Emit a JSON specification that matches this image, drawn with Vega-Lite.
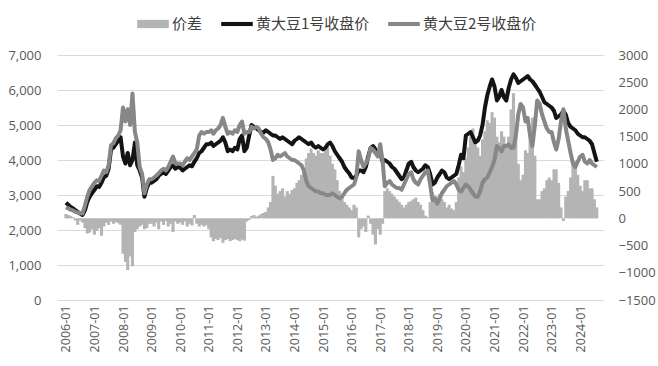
{
 "$schema": "https://vega.github.io/schema/vega-lite/v6.json",
 "width": 547, "height": 245,
 "autosize": "none",
 "padding": {"left": 57, "top": 55, "right": 54, "bottom": 66},
 "background": "white",
 "config": {"view": {"stroke": null}, "font": "Open Sans"},
 "data": {"values": [
{"date":"2006-01-01","a1":2780,"a2":2650,"d":80},{"date":"2006-02-01","a1":2720,"a2":2620,"d":60},{"date":"2006-03-01","a1":2660,"a2":2580,"d":40},{"date":"2006-04-01","a1":2620,"a2":2560,"d":20},{"date":"2006-05-01","a1":2570,"a2":2520,"d":-40},{"date":"2006-06-01","a1":2520,"a2":2500,"d":-120},{"date":"2006-07-01","a1":2470,"a2":2480,"d":-40},{"date":"2006-08-01","a1":2430,"a2":2470,"d":-80},{"date":"2006-09-01","a1":2560,"a2":2700,"d":-180},{"date":"2006-10-01","a1":2800,"a2":2950,"d":-280},{"date":"2006-11-01","a1":2950,"a2":3150,"d":-260},{"date":"2006-12-01","a1":3050,"a2":3250,"d":-200},
{"date":"2007-01-01","a1":3150,"a2":3350,"d":-300},{"date":"2007-02-01","a1":3250,"a2":3420,"d":-230},{"date":"2007-03-01","a1":3230,"a2":3400,"d":-180},{"date":"2007-04-01","a1":3350,"a2":3550,"d":-320},{"date":"2007-05-01","a1":3500,"a2":3700,"d":-150},{"date":"2007-06-01","a1":3550,"a2":3650,"d":-80},{"date":"2007-07-01","a1":3750,"a2":3850,"d":-120},{"date":"2007-08-01","a1":4300,"a2":4420,"d":-60},{"date":"2007-09-01","a1":4350,"a2":4480,"d":-100},{"date":"2007-10-01","a1":4450,"a2":4620,"d":-70},{"date":"2007-11-01","a1":4550,"a2":4700,"d":-90},{"date":"2007-12-01","a1":4650,"a2":4850,"d":-120},
{"date":"2008-01-01","a1":4100,"a2":5500,"d":-650},{"date":"2008-02-01","a1":3900,"a2":5100,"d":-800},{"date":"2008-03-01","a1":4200,"a2":5450,"d":-950},{"date":"2008-04-01","a1":3850,"a2":5000,"d":-700},{"date":"2008-05-01","a1":4000,"a2":5900,"d":-880},{"date":"2008-06-01","a1":4500,"a2":4800,"d":-250},{"date":"2008-07-01","a1":3850,"a2":4500,"d":-200},{"date":"2008-08-01","a1":3700,"a2":3800,"d":-150},{"date":"2008-09-01","a1":3500,"a2":3600,"d":-120},{"date":"2008-10-01","a1":2950,"a2":3050,"d":-200},{"date":"2008-11-01","a1":3200,"a2":3300,"d":-180},{"date":"2008-12-01","a1":3350,"a2":3450,"d":-100},
{"date":"2009-01-01","a1":3350,"a2":3450,"d":-100},{"date":"2009-02-01","a1":3400,"a2":3500,"d":-150},{"date":"2009-03-01","a1":3450,"a2":3550,"d":-80},{"date":"2009-04-01","a1":3550,"a2":3620,"d":-200},{"date":"2009-05-01","a1":3600,"a2":3700,"d":-60},{"date":"2009-06-01","a1":3650,"a2":3750,"d":-120},{"date":"2009-07-01","a1":3600,"a2":3700,"d":-50},{"date":"2009-08-01","a1":3700,"a2":3800,"d":-150},{"date":"2009-09-01","a1":3800,"a2":3950,"d":-100},{"date":"2009-10-01","a1":3850,"a2":4100,"d":-250},{"date":"2009-11-01","a1":3750,"a2":3900,"d":-60},{"date":"2009-12-01","a1":3800,"a2":3900,"d":-100},
{"date":"2010-01-01","a1":3780,"a2":3900,"d":-80},{"date":"2010-02-01","a1":3700,"a2":3850,"d":-120},{"date":"2010-03-01","a1":3750,"a2":3950,"d":-60},{"date":"2010-04-01","a1":3800,"a2":4050,"d":-150},{"date":"2010-05-01","a1":3850,"a2":4000,"d":-100},{"date":"2010-06-01","a1":3820,"a2":4100,"d":-130},{"date":"2010-07-01","a1":3950,"a2":4200,"d":60},{"date":"2010-08-01","a1":4050,"a2":4300,"d":-100},{"date":"2010-09-01","a1":4200,"a2":4700,"d":-150},{"date":"2010-10-01","a1":4250,"a2":4800,"d":-120},{"date":"2010-11-01","a1":4350,"a2":4750,"d":-150},{"date":"2010-12-01","a1":4450,"a2":4800,"d":-130},
{"date":"2011-01-01","a1":4450,"a2":4800,"d":-200},{"date":"2011-02-01","a1":4500,"a2":4850,"d":-350},{"date":"2011-03-01","a1":4400,"a2":4750,"d":-420},{"date":"2011-04-01","a1":4450,"a2":4850,"d":-380},{"date":"2011-05-01","a1":4500,"a2":4900,"d":-400},{"date":"2011-06-01","a1":4550,"a2":5000,"d":-360},{"date":"2011-07-01","a1":4650,"a2":5200,"d":-450},{"date":"2011-08-01","a1":4500,"a2":4950,"d":-400},{"date":"2011-09-01","a1":4250,"a2":4750,"d":-380},{"date":"2011-10-01","a1":4300,"a2":4800,"d":-420},{"date":"2011-11-01","a1":4250,"a2":4750,"d":-400},{"date":"2011-12-01","a1":4350,"a2":4850,"d":-380},
{"date":"2012-01-01","a1":4300,"a2":4800,"d":-400},{"date":"2012-02-01","a1":4600,"a2":5000,"d":-420},{"date":"2012-03-01","a1":4700,"a2":5100,"d":-390},{"date":"2012-04-01","a1":4250,"a2":4750,"d":-410},{"date":"2012-05-01","a1":4350,"a2":4800,"d":-60},{"date":"2012-06-01","a1":4700,"a2":4800,"d":-30},{"date":"2012-07-01","a1":5000,"a2":4950,"d":40},{"date":"2012-08-01","a1":4950,"a2":4900,"d":60},{"date":"2012-09-01","a1":4900,"a2":4950,"d":30},{"date":"2012-10-01","a1":4850,"a2":4900,"d":50},{"date":"2012-11-01","a1":4800,"a2":4750,"d":80},{"date":"2012-12-01","a1":4780,"a2":4650,"d":100},
{"date":"2013-01-01","a1":4850,"a2":4600,"d":120},{"date":"2013-02-01","a1":4800,"a2":4500,"d":200},{"date":"2013-03-01","a1":4750,"a2":4300,"d":300},{"date":"2013-04-01","a1":4700,"a2":4000,"d":780},{"date":"2013-05-01","a1":4700,"a2":4050,"d":600},{"date":"2013-06-01","a1":4650,"a2":4150,"d":450},{"date":"2013-07-01","a1":4600,"a2":4100,"d":500},{"date":"2013-08-01","a1":4650,"a2":4150,"d":550},{"date":"2013-09-01","a1":4600,"a2":4200,"d":400},{"date":"2013-10-01","a1":4550,"a2":4100,"d":500},{"date":"2013-11-01","a1":4500,"a2":4050,"d":450},{"date":"2013-12-01","a1":4450,"a2":4000,"d":520},
{"date":"2014-01-01","a1":4550,"a2":4000,"d":550},{"date":"2014-02-01","a1":4600,"a2":3950,"d":650},{"date":"2014-03-01","a1":4650,"a2":3900,"d":700},{"date":"2014-04-01","a1":4600,"a2":3850,"d":800},{"date":"2014-05-01","a1":4550,"a2":3700,"d":900},{"date":"2014-06-01","a1":4500,"a2":3400,"d":1100},{"date":"2014-07-01","a1":4450,"a2":3250,"d":1200},{"date":"2014-08-01","a1":4500,"a2":3200,"d":1280},{"date":"2014-09-01","a1":4400,"a2":3150,"d":1200},{"date":"2014-10-01","a1":4350,"a2":3100,"d":1150},{"date":"2014-11-01","a1":4400,"a2":3100,"d":1250},{"date":"2014-12-01","a1":4350,"a2":3050,"d":1200},
{"date":"2015-01-01","a1":4300,"a2":3050,"d":1200},{"date":"2015-02-01","a1":4350,"a2":3000,"d":1300},{"date":"2015-03-01","a1":4450,"a2":3000,"d":1350},{"date":"2015-04-01","a1":4500,"a2":3000,"d":1150},{"date":"2015-05-01","a1":4400,"a2":3050,"d":1000},{"date":"2015-06-01","a1":4250,"a2":3000,"d":900},{"date":"2015-07-01","a1":4150,"a2":2950,"d":700},{"date":"2015-08-01","a1":4050,"a2":2900,"d":500},{"date":"2015-09-01","a1":3950,"a2":2950,"d":400},{"date":"2015-10-01","a1":3800,"a2":3050,"d":300},{"date":"2015-11-01","a1":3700,"a2":3150,"d":250},{"date":"2015-12-01","a1":3620,"a2":3200,"d":200},
{"date":"2016-01-01","a1":3500,"a2":3250,"d":150},{"date":"2016-02-01","a1":3480,"a2":3300,"d":250},{"date":"2016-03-01","a1":3550,"a2":3500,"d":200},{"date":"2016-04-01","a1":3700,"a2":4250,"d":-350},{"date":"2016-05-01","a1":3700,"a2":4000,"d":-200},{"date":"2016-06-01","a1":3650,"a2":3800,"d":-150},{"date":"2016-07-01","a1":3800,"a2":3900,"d":-250},{"date":"2016-08-01","a1":4100,"a2":4050,"d":50},{"date":"2016-09-01","a1":4350,"a2":4350,"d":-100},{"date":"2016-10-01","a1":4400,"a2":4300,"d":-300},{"date":"2016-11-01","a1":4300,"a2":4200,"d":-480},{"date":"2016-12-01","a1":4150,"a2":4100,"d":-200},
{"date":"2017-01-01","a1":4200,"a2":4450,"d":-300},{"date":"2017-02-01","a1":3950,"a2":3950,"d":-100},{"date":"2017-03-01","a1":4000,"a2":3250,"d":500},{"date":"2017-04-01","a1":3950,"a2":3350,"d":550},{"date":"2017-05-01","a1":3900,"a2":3400,"d":500},{"date":"2017-06-01","a1":3800,"a2":3300,"d":450},{"date":"2017-07-01","a1":3750,"a2":3250,"d":400},{"date":"2017-08-01","a1":3650,"a2":3200,"d":350},{"date":"2017-09-01","a1":3550,"a2":3200,"d":300},{"date":"2017-10-01","a1":3450,"a2":3150,"d":250},{"date":"2017-11-01","a1":3500,"a2":3300,"d":200},{"date":"2017-12-01","a1":3700,"a2":3450,"d":250},
{"date":"2018-01-01","a1":3900,"a2":3600,"d":300},{"date":"2018-02-01","a1":3950,"a2":3650,"d":320},{"date":"2018-03-01","a1":3800,"a2":3450,"d":350},{"date":"2018-04-01","a1":3700,"a2":3350,"d":380},{"date":"2018-05-01","a1":3650,"a2":3300,"d":300},{"date":"2018-06-01","a1":3700,"a2":3450,"d":250},{"date":"2018-07-01","a1":3750,"a2":3550,"d":150},{"date":"2018-08-01","a1":3850,"a2":3650,"d":50},{"date":"2018-09-01","a1":3800,"a2":3700,"d":20},{"date":"2018-10-01","a1":3600,"a2":3300,"d":300},{"date":"2018-11-01","a1":3300,"a2":2850,"d":480},{"date":"2018-12-01","a1":3350,"a2":2900,"d":420},
{"date":"2019-01-01","a1":3500,"a2":2750,"d":400},{"date":"2019-02-01","a1":3600,"a2":2900,"d":450},{"date":"2019-03-01","a1":3700,"a2":3050,"d":350},{"date":"2019-04-01","a1":3650,"a2":3150,"d":300},{"date":"2019-05-01","a1":3500,"a2":3250,"d":200},{"date":"2019-06-01","a1":3450,"a2":3300,"d":250},{"date":"2019-07-01","a1":3500,"a2":3350,"d":180},{"date":"2019-08-01","a1":3550,"a2":3400,"d":150},{"date":"2019-09-01","a1":3600,"a2":3300,"d":300},{"date":"2019-10-01","a1":3850,"a2":3150,"d":750},{"date":"2019-11-01","a1":4150,"a2":3100,"d":950},{"date":"2019-12-01","a1":4050,"a2":3200,"d":850},
{"date":"2020-01-01","a1":4700,"a2":3300,"d":1100},{"date":"2020-02-01","a1":4750,"a2":3250,"d":1300},{"date":"2020-03-01","a1":4800,"a2":3150,"d":1500},{"date":"2020-04-01","a1":4650,"a2":3050,"d":1650},{"date":"2020-05-01","a1":4500,"a2":2950,"d":1350},{"date":"2020-06-01","a1":4550,"a2":2950,"d":1300},{"date":"2020-07-01","a1":4700,"a2":3100,"d":1150},{"date":"2020-08-01","a1":5000,"a2":3350,"d":1450},{"date":"2020-09-01","a1":5500,"a2":3450,"d":1600},{"date":"2020-10-01","a1":5850,"a2":3500,"d":1800},{"date":"2020-11-01","a1":6100,"a2":3650,"d":1750},{"date":"2020-12-01","a1":6300,"a2":3800,"d":1950},
{"date":"2021-01-01","a1":6100,"a2":4000,"d":1850},{"date":"2021-02-01","a1":5700,"a2":4400,"d":1500},{"date":"2021-03-01","a1":5800,"a2":4350,"d":1400},{"date":"2021-04-01","a1":6000,"a2":4250,"d":1600},{"date":"2021-05-01","a1":5800,"a2":4400,"d":1500},{"date":"2021-06-01","a1":5700,"a2":4400,"d":1300},{"date":"2021-07-01","a1":6050,"a2":4450,"d":1500},{"date":"2021-08-01","a1":6300,"a2":4350,"d":2000},{"date":"2021-09-01","a1":6450,"a2":4350,"d":2300},{"date":"2021-10-01","a1":6350,"a2":4700,"d":1700},{"date":"2021-11-01","a1":6200,"a2":5300,"d":1000},{"date":"2021-12-01","a1":6250,"a2":5600,"d":700},
{"date":"2022-01-01","a1":6300,"a2":5500,"d":800},{"date":"2022-02-01","a1":6350,"a2":5100,"d":1250},{"date":"2022-03-01","a1":6400,"a2":5200,"d":1200},{"date":"2022-04-01","a1":6300,"a2":4700,"d":1600},{"date":"2022-05-01","a1":6250,"a2":4400,"d":1850},{"date":"2022-06-01","a1":6150,"a2":5000,"d":1150},{"date":"2022-07-01","a1":6050,"a2":5700,"d":350},{"date":"2022-08-01","a1":5950,"a2":5600,"d":350},{"date":"2022-09-01","a1":5800,"a2":5300,"d":500},{"date":"2022-10-01","a1":5650,"a2":5100,"d":550},{"date":"2022-11-01","a1":5600,"a2":4900,"d":700},{"date":"2022-12-01","a1":5550,"a2":4800,"d":750},
{"date":"2023-01-01","a1":5500,"a2":4800,"d":700},{"date":"2023-02-01","a1":5400,"a2":4500,"d":900},{"date":"2023-03-01","a1":5200,"a2":4300,"d":900},{"date":"2023-04-01","a1":5250,"a2":4600,"d":650},{"date":"2023-05-01","a1":5300,"a2":5100,"d":200},{"date":"2023-06-01","a1":5400,"a2":5450,"d":-50},{"date":"2023-07-01","a1":5300,"a2":4900,"d":400},{"date":"2023-08-01","a1":5050,"a2":4550,"d":500},{"date":"2023-09-01","a1":4950,"a2":4200,"d":750},{"date":"2023-10-01","a1":4900,"a2":3900,"d":1000},{"date":"2023-11-01","a1":4850,"a2":3800,"d":1050},{"date":"2023-12-01","a1":4750,"a2":3950,"d":800},
{"date":"2024-01-01","a1":4700,"a2":4100,"d":600},{"date":"2024-02-01","a1":4650,"a2":4150,"d":500},{"date":"2024-03-01","a1":4650,"a2":3950,"d":700},{"date":"2024-04-01","a1":4600,"a2":3900,"d":700},{"date":"2024-05-01","a1":4550,"a2":4000,"d":550},{"date":"2024-06-01","a1":4450,"a2":3900,"d":550},{"date":"2024-07-01","a1":4200,"a2":3850,"d":350},{"date":"2024-08-01","a1":3950,"a2":3800,"d":200}
 ]},
 "encoding": {
  "x": {"field": "date", "type": "temporal",
   "scale": {"type": "utc", "domain": [{"year": 2005, "month": 11, "date": 12, "utc": true}, {"year": 2024, "month": 8, "date": 29, "utc": true}]},
   "axis": {"title": null, "format": "%Y-%m", "tickCount": {"interval": "year", "step": 1}, "labelAngle": 270, "grid": false, "ticks": false, "domain": false, "labelFontSize": 12.5, "labelColor": "#595959", "labelPadding": 5, "labelOverlap": false, "labelFlush": false, "labelBound": false}}
 },
 "layer": [
  {"mark": {"type": "bar", "width": 3.1},
   "encoding": {
    "y": {"field": "d", "type": "quantitative", "scale": {"domain": [-1500, 3000], "nice": false, "zero": false},
     "axis": {"orient": "right", "title": null, "values": [-1500,-1000,-500,0,500,1000,1500,2000,2500,3000], "format": "d", "grid": false, "ticks": false, "domain": false, "labelFontSize": 13, "labelColor": "#595959", "labelPadding": 14}},
    "color": {"datum": "价差", "type": "nominal",
     "scale": {"domain": ["价差", "黄大豆1号收盘价", "黄大豆2号收盘价"], "range": ["#b4b4b4", "#141414", "#878787"]},
     "legend": {"title": null, "orient": "none", "legendX": 80, "legendY": -47, "direction": "horizontal", "symbolType": "M-1,-0.13H1V0.13H-1Z", "symbolSize": 1000, "symbolStrokeWidth": 0, "labelFont": "Noto Sans CJK SC", "labelFontSize": 15, "labelColor": "#404040", "labelOffset": 3, "columnPadding": 18, "padding": 0,
      "encode": {"symbols": {"update": {
        "shape": {"signal": "datum.label === '价差' ? 'M-1,-0.26H1V0.26H-1Z' : 'M-1,-0.13H1V0.13H-1Z'"},
        "fill": {"scale": "color", "field": "value"},
        "fillOpacity": {"value": 1},
        "strokeWidth": {"value": 0}}}}}}
   }},
  {"layer": [
    {"mark": {"type": "line", "strokeWidth": 4, "strokeJoin": "round"},
     "encoding": {"y": {"field": "a1", "type": "quantitative", "scale": {"domain": [0, 7000], "nice": false},
       "axis": {"orient": "left", "title": null, "values": [0,1000,2000,3000,4000,5000,6000,7000], "format": ",d", "grid": true, "gridColor": "#d9d9d9", "gridWidth": 1, "ticks": false, "domain": false, "labelFontSize": 13, "labelColor": "#595959", "labelPadding": 16}},
      "color": {"datum": "黄大豆1号收盘价", "type": "nominal"}}},
    {"mark": {"type": "line", "strokeWidth": 4, "strokeJoin": "round"},
     "encoding": {"y": {"field": "a2", "type": "quantitative", "scale": {"domain": [0, 7000], "nice": false},
       "axis": {"orient": "left", "title": null, "values": [0,1000,2000,3000,4000,5000,6000,7000], "format": ",d", "grid": true, "gridColor": "#d9d9d9", "gridWidth": 1, "ticks": false, "domain": false, "labelFontSize": 13, "labelColor": "#595959", "labelPadding": 16}},
      "color": {"datum": "黄大豆2号收盘价", "type": "nominal"}}}
  ]}
 ],
 "resolve": {"scale": {"y": "independent"}}
}
